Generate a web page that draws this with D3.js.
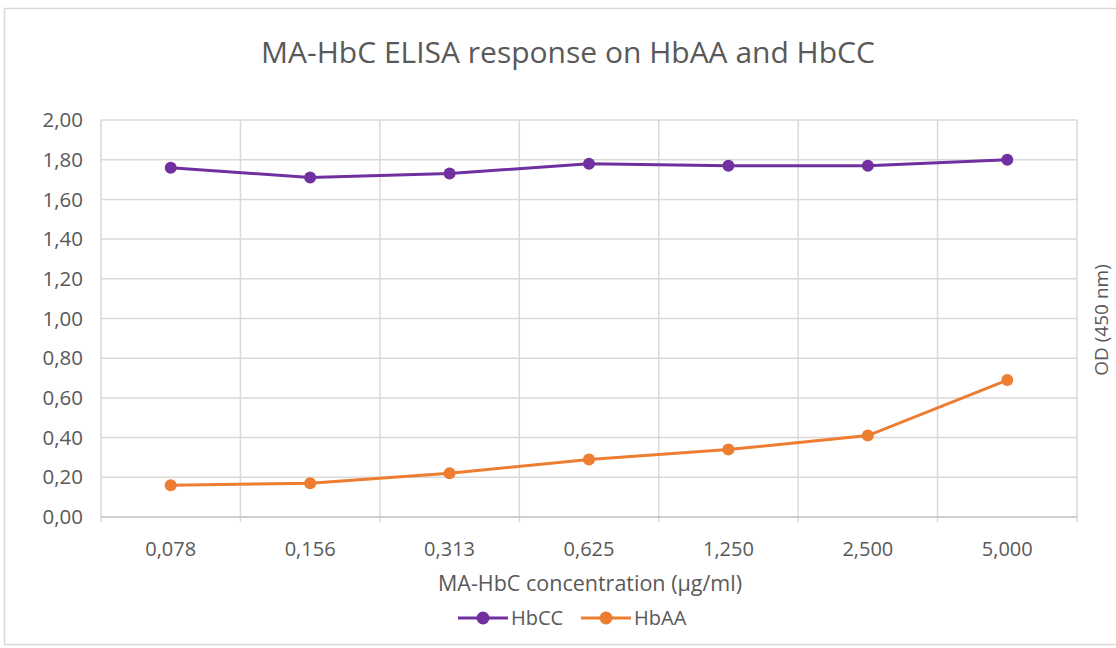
<!DOCTYPE html>
<html><head><meta charset="utf-8">
<script src="https://cdn.jsdelivr.net/npm/d3@7"></script>
<style>body{margin:0;background:#fff;} svg{display:block;font-family:"Open Sans",sans-serif;}</style>
</head><body>
<svg id="c" width="1116" height="648"></svg>
<script>
const categories = ["0,078","0,156","0,313","0,625","1,250","2,500","5,000"];
const hbcc = [1.76, 1.71, 1.73, 1.78, 1.77, 1.77, 1.80];
const hbaa = [0.16, 0.17, 0.22, 0.29, 0.34, 0.41, 0.69];
const yTicks = [0,0.2,0.4,0.6,0.8,1.0,1.2,1.4,1.6,1.8,2.0];
const seriesNames = ["HbCC","HbAA"];
const colors = ["#7030A0","#ED7D31"];

const svg = d3.select("#c");
svg.append("rect").attr("x",4.5).attr("y",8.5).attr("width",1130).attr("height",636)
  .attr("fill","#fff").attr("stroke","#d9d9d9").attr("stroke-width",1.5);

const L=101, R=1077, T=120, B=517;
const x = d3.scaleBand().domain(categories).range([L,R]);
const y = d3.scaleLinear().domain([0,2]).range([B,T]);

svg.append("g").selectAll("line").data(yTicks.filter(d=>d>0)).join("line")
  .attr("x1",L).attr("x2",R).attr("y1",d=>y(d)).attr("y2",d=>y(d))
  .attr("stroke","#d9d9d9").attr("stroke-width",1.5);
const bounds = categories.map(c=>x(c)).concat([R]);
svg.append("g").selectAll("line").data(bounds).join("line")
  .attr("x1",d=>d).attr("x2",d=>d).attr("y1",T).attr("y2",B+5)
  .attr("stroke","#d9d9d9").attr("stroke-width",1.5);
svg.append("line").attr("x1",L).attr("x2",R).attr("y1",B).attr("y2",B)
  .attr("stroke","#bfbfbf").attr("stroke-width",1.5);

svg.append("g").selectAll("text").data(yTicks).join("text")
  .attr("x",83).attr("y",d=>y(d)).attr("dy","0.35em").attr("text-anchor","end")
  .attr("font-size",20.5).attr("fill","#595959").text(d=>d.toFixed(2).replace(".",","));
svg.append("g").selectAll("text").data(categories).join("text")
  .attr("x",d=>x(d)+x.bandwidth()/2).attr("y",556).attr("text-anchor","middle")
  .attr("font-size",20).attr("fill","#595959").text(d=>d);

svg.append("text").attr("x",568).attr("y",63).attr("text-anchor","middle")
  .attr("font-size",30).attr("fill","#595959").text("MA-HbC ELISA response on HbAA and HbCC");
svg.append("text").attr("x",590).attr("y",591).attr("text-anchor","middle")
  .attr("font-size",21.5).attr("fill","#595959").text("MA-HbC concentration (µg/ml)");
svg.append("text").attr("transform","translate(1108,320) rotate(-90)").attr("text-anchor","middle")
  .attr("font-size",19).attr("fill","#595959").text("OD (450 nm)");

const cx = c=>x(c)+x.bandwidth()/2;
[hbcc,hbaa].forEach((vals,i)=>{
  const data = categories.map((c,j)=>({c,v:vals[j]}));
  svg.append("path").datum(data)
    .attr("d",d3.line().x(d=>cx(d.c)).y(d=>y(d.v)))
    .attr("fill","none").attr("stroke",colors[i]).attr("stroke-width",3);
  svg.append("g").selectAll("circle").data(data).join("circle")
    .attr("cx",d=>cx(d.c)).attr("cy",d=>y(d.v)).attr("r",6).attr("fill",colors[i]);
});

const legX = [458, 581];
seriesNames.forEach((n,i)=>{
  const g = svg.append("g").attr("transform",`translate(${legX[i]},618)`);
  g.append("line").attr("x1",0).attr("x2",50).attr("stroke",colors[i]).attr("stroke-width",3);
  g.append("circle").attr("cx",25).attr("r",6.5).attr("fill",colors[i]);
  g.append("text").attr("x",53).attr("y",7).attr("font-size",20).attr("fill","#595959").text(n);
});
</script>
</body></html>
